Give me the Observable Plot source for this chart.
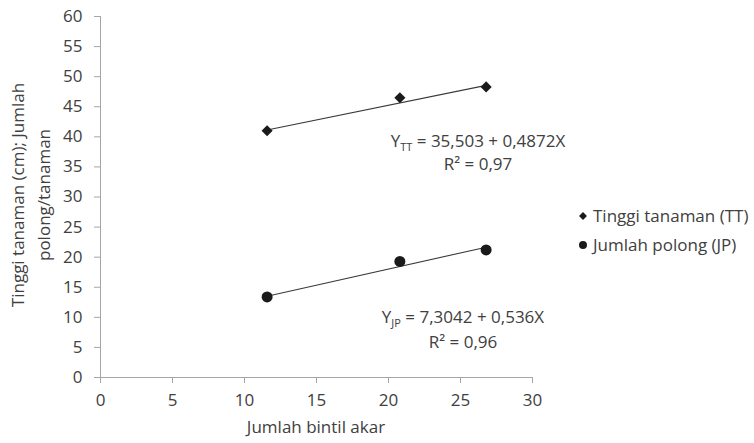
<!DOCTYPE html>
<html>
<head>
<meta charset="utf-8">
<script src="https://cdn.jsdelivr.net/npm/d3@7"></script>
<script src="https://cdn.jsdelivr.net/npm/@observablehq/plot@0.6"></script>
<style>
  html, body { margin: 0; padding: 0; background: #fff; }
  #chart { width: 754px; height: 443px; }
</style>
</head>
<body>
<div id="chart"></div>
<script>
// ---- data ----
const bintil = [11.57, 20.79, 26.78];            // Jumlah bintil akar (x)
const tinggiTanaman = [41.0, 46.5, 48.3];         // Tinggi tanaman (TT)
const jumlahPolong = [13.4, 19.3, 21.2];          // Jumlah polong (JP)
const seriesNames = ["Tinggi tanaman (TT)", "Jumlah polong (JP)"];
const intercepts = [35.503, 7.3042];
const slopes = [0.4872, 0.536];
const eqLabels = [["Y", "TT", " = 35,503 + 0,4872X"], ["Y", "JP", " = 7,3042 + 0,536X"]];
const r2Labels = ["R² = 0,97", "R² = 0,96"];
const xTicks = [0, 5, 10, 15, 20, 25, 30];
const yTicks = [0, 5, 10, 15, 20, 25, 30, 35, 40, 45, 50, 55, 60];
const xTitle = "Jumlah bintil akar";
const yTitle = ["Tinggi tanaman (cm); Jumlah", "polong/tanaman"];

// ---- tables built from arrays ----
const points = [];
bintil.forEach((x, i) => {
  points.push({x, y: tinggiTanaman[i], s: seriesNames[0]});
  points.push({x, y: jumlahPolong[i], s: seriesNames[1]});
});
const xMin = d3.min(bintil), xMax = d3.max(bintil);
const trend = [];
seriesNames.forEach((s, k) => {
  [xMin, xMax].forEach(x => trend.push({x, y: intercepts[k] + slopes[k] * x, s}));
});

const textColor = "#404040";
const axisColor = "#a6a6a6";
const font = "'Open Sans', sans-serif";

const chart = Plot.plot({
  width: 754,
  height: 443,
  marginLeft: 100,
  marginRight: 222,
  marginTop: 16,
  marginBottom: 66,
  style: {fontFamily: font, fontSize: "17px", color: textColor, background: "#fff"},
  x: {domain: [0, 30], label: null},
  y: {domain: [0, 60], label: null},
  symbol: {domain: seriesNames, range: ["diamond2", "circle"]},
  marks: [
    Plot.ruleX([0], {stroke: axisColor, strokeWidth: 1}),
    Plot.ruleY([0], {stroke: axisColor, strokeWidth: 1}),
    Plot.axisY({ticks: yTicks, tickSize: 6, tickPadding: 12, stroke: axisColor, fill: textColor, label: null}),
    Plot.axisX({ticks: xTicks, tickSize: 6, tickPadding: 10, stroke: axisColor, fill: textColor, label: null}),
    Plot.line(trend, {x: "x", y: "y", z: "s", stroke: "#3a3a3a", strokeWidth: 1.1}),
    Plot.dot(points.filter(d => d.s === seriesNames[0]), {x: "x", y: "y", symbol: "s", r: 5, fill: "#1a1a1a", stroke: "none"}),
    Plot.dot(points.filter(d => d.s === seriesNames[1]), {x: "x", y: "y", symbol: "s", r: 5.5, fill: "#1a1a1a", stroke: "none"})
  ]
});

document.getElementById("chart").appendChild(chart);

const svg = d3.select(chart);
const g = svg.append("g").attr("font-family", font).attr("fill", textColor);

// y-axis title (two centered lines, rotated)
const ytxt = g.append("text")
  .attr("transform", "translate(24,195) rotate(-90)")
  .attr("text-anchor", "middle")
  .attr("font-size", 17);
ytxt.append("tspan").attr("x", 0).attr("y", 0).text(yTitle[0]);
ytxt.append("tspan").attr("x", 0).attr("y", 25.5).text(yTitle[1]);

// x-axis title
g.append("text").attr("x", 316).attr("y", 433).attr("text-anchor", "middle")
  .attr("font-size", 17).text(xTitle);

// regression equations
const eqPos = [{x: 478, y: 147, ry: 170}, {x: 463, y: 323, ry: 348}];
eqLabels.forEach((lab, k) => {
  const t = g.append("text").attr("x", eqPos[k].x).attr("y", eqPos[k].y)
    .attr("text-anchor", "middle").attr("font-size", 17);
  t.append("tspan").text(lab[0]);
  t.append("tspan").attr("font-size", 11).attr("dy", 4).text(lab[1]);
  t.append("tspan").attr("dy", -4).text(lab[2]);
  g.append("text").attr("x", eqPos[k].x).attr("y", eqPos[k].ry)
    .attr("text-anchor", "middle").attr("font-size", 17).text(r2Labels[k]);
});

// legend
const legY = [216, 245];
const symbols = [d3.symbol(d3.symbolDiamond2, 40), d3.symbol(d3.symbolCircle, 50)];
seriesNames.forEach((name, k) => {
  g.append("path").attr("d", symbols[k]()).attr("transform", `translate(583,${legY[k]})`).attr("fill", "#1a1a1a");
  g.append("text").attr("x", 593).attr("y", legY[k]).attr("dy", "0.35em")
    .attr("text-anchor", "start").attr("font-size", 17).text(name);
});
</script>
</body>
</html>
